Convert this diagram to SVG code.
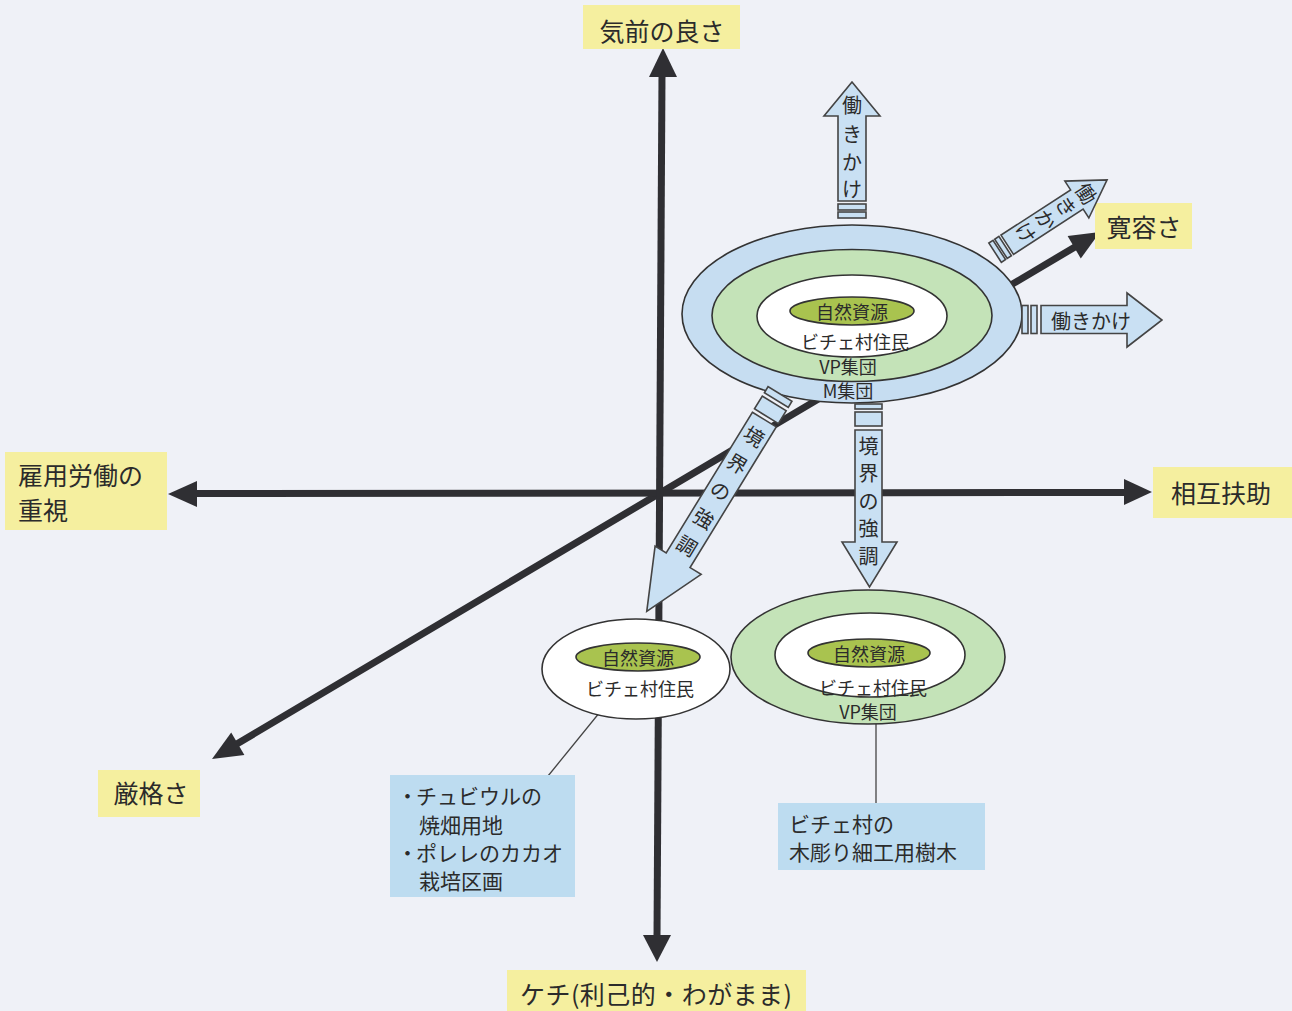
<svg xmlns="http://www.w3.org/2000/svg" width="1292" height="1011" viewBox="0 0 1292 1011">
<style>
text{font-family:"Noto Sans CJK JP","Noto Sans",sans-serif;fill:#2b2b2b;}
.lab{font-size:25px;}
.ylw{fill:#f5ef9f;}
.bbox{fill:#bddcf0;}
.axis{stroke:#2f2f33;stroke-width:7;fill:none;}
.head{fill:#2f2f33;}
.thin{stroke:#444;stroke-width:1.3;fill:none;}
.blk{fill:#c9e0f3;stroke:#444;stroke-width:1.6;}
.ring{stroke:#333;stroke-width:1.6;}
.res{fill:#a9c34f;stroke:#333;stroke-width:1.6;}
.et{font-size:18px;text-anchor:middle;dominant-baseline:central;}
.at{font-size:20px;text-anchor:middle;dominant-baseline:central;}
.bt{font-size:21px;}
</style>
<rect x="0" y="0" width="1292" height="1011" fill="#eff1f7"/>

<g id="connectors">
  <line class="axis" x1="230" y1="748" x2="1080" y2="244"/>
  <polygon class="head" points="212,759 244.4,754.9 231.2,732.5"/>
  <polygon class="head" points="1100,232 1080.8,258.5 1067.6,236.1"/>
  <line class="axis" x1="194" y1="493.5" x2="1126" y2="492.5"/>
  <polygon class="head" points="168,494 197,481 197,507"/>
  <polygon class="head" points="1152,492 1124,479 1124,505"/>
  <line class="axis" x1="662" y1="74" x2="657" y2="938"/>
  <polygon class="head" points="663,48 649,77 677,77"/>
  <polygon class="head" points="657,962 643,935 671,935"/>
  <line class="thin" x1="600" y1="712" x2="548" y2="776"/>
  <line class="thin" x1="876" y1="720" x2="876" y2="803"/>
</g>

<g id="label-kimae">
  <rect class="ylw" x="583" y="5" width="157" height="44"/>
  <text class="lab" x="662" y="30" text-anchor="middle" dominant-baseline="central" font-size="26">気前の良さ</text>
</g>
<g id="label-kanyou">
  <rect class="ylw" x="1095" y="203" width="97" height="46"/>
  <text class="lab" x="1144" y="226" text-anchor="middle" dominant-baseline="central">寛容さ</text>
</g>
<g id="label-koyou">
  <rect class="ylw" x="5" y="452" width="162" height="78"/>
  <text class="lab" x="18" y="474" dominant-baseline="central" font-size="26">雇用労働の</text>
  <text class="lab" x="18" y="509" dominant-baseline="central" font-size="26">重視</text>
</g>
<g id="label-sougo">
  <rect class="ylw" x="1153" y="467" width="139" height="51"/>
  <text class="lab" x="1221" y="492" text-anchor="middle" dominant-baseline="central" font-size="26">相互扶助</text>
</g>
<g id="label-genkaku">
  <rect class="ylw" x="98" y="770" width="102" height="47"/>
  <text class="lab" x="151" y="792" text-anchor="middle" dominant-baseline="central" font-size="24">厳格さ</text>
</g>
<g id="label-kechi">
  <rect class="ylw" x="507" y="970" width="299" height="41"/>
  <text class="lab" x="520" y="993" dominant-baseline="central" font-size="24" textLength="272" lengthAdjust="spacing">ケチ(利己的・わがまま)</text>
</g>

<g id="node-top">
  <ellipse class="ring" cx="852" cy="314" rx="170" ry="89" fill="#c6ddf1"/>
  <ellipse class="ring" cx="852" cy="315.5" rx="140" ry="66" fill="#c4e3b8"/>
  <ellipse class="ring" cx="852" cy="316" rx="95" ry="41" fill="#ffffff"/>
  <ellipse class="res" cx="852" cy="311" rx="62" ry="14"/>
  <text class="et" x="852" y="311">自然資源</text>
  <text class="et" x="855" y="341">ビチェ村住民</text>
  <text class="et" x="848" y="366" font-size="16">VP集団</text>
  <text class="et" x="848" y="390" font-size="16">M集団</text>
</g>

<g id="node-lowerleft">
  <ellipse class="ring" cx="636" cy="669" rx="94" ry="50" fill="#ffffff"/>
  <ellipse class="res" cx="638" cy="657" rx="62" ry="14"/>
  <text class="et" x="638" y="657">自然資源</text>
  <text class="et" x="640" y="688">ビチェ村住民</text>
</g>

<g id="node-lowerright">
  <ellipse class="ring" cx="868" cy="657" rx="137" ry="67" fill="#c4e3b8"/>
  <ellipse class="ring" cx="870" cy="655" rx="95" ry="42" fill="#ffffff"/>
  <ellipse class="res" cx="869" cy="653" rx="61" ry="14"/>
  <text class="et" x="869" y="653">自然資源</text>
  <text class="et" x="873" y="687">ビチェ村住民</text>
  <text class="et" x="868" y="711" font-size="16">VP集団</text>
</g>

<g id="box-left">
  <rect class="bbox" x="390" y="775" width="185" height="122"/>
  <text class="bt" y="804"><tspan x="397">・</tspan><tspan x="416">チュビウルの</tspan></text>
  <text class="bt" x="419" y="833">焼畑用地</text>
  <text class="bt" y="861"><tspan x="397">・</tspan><tspan x="416">ポレレのカカオ</tspan></text>
  <text class="bt" x="419" y="889">栽培区画</text>
</g>
<g id="box-right">
  <rect class="bbox" x="778" y="803" width="207" height="67"/>
  <text class="bt" x="789" y="832">ビチェ村の</text>
  <text class="bt" x="789" y="860">木彫り細工用樹木</text>
</g>

<g id="arrow-up">
  <path class="blk" d="M852,82 L880,116 L866,116 L866,201 L838,201 L838,116 L824,116 Z"/>
  <rect class="blk" x="838" y="204" width="28" height="6"/>
  <rect class="blk" x="838" y="212" width="28" height="6"/>
  <text class="at" x="852" y="104">働</text>
  <text class="at" x="852" y="133">き</text>
  <text class="at" x="852" y="161">か</text>
  <text class="at" x="852" y="188">け</text>
</g>

<g id="arrow-diag-up" transform="translate(993,254) rotate(57)">
  <path class="blk" d="M0,-136 L22,-100 L11.5,-100 L11.5,-17 L-11.5,-17 L-11.5,-100 L-22,-100 Z"/>
  <rect class="blk" x="-11.5" y="-14.5" width="23" height="5"/>
  <rect class="blk" x="-11.5" y="-7.5" width="23" height="5"/>
  <text class="at" x="0" y="-112" font-size="18">働</text>
  <text class="at" x="0" y="-88" font-size="18">き</text>
  <text class="at" x="0" y="-64" font-size="18">か</text>
  <text class="at" x="0" y="-40" font-size="18">け</text>
</g>

<g id="arrow-right">
  <path class="blk" d="M1041,305.5 L1127,305.5 L1127,293 L1162,320 L1127,347 L1127,333.5 L1041,333.5 Z"/>
  <rect class="blk" x="1022" y="305.5" width="6" height="28"/>
  <rect class="blk" x="1031" y="305.5" width="6" height="28"/>
  <text class="at" x="1091" y="320" font-size="22">働きかけ</text>
</g>

<g id="arrow-down">
  <path class="blk" d="M855,430 L882,430 L882,542 L897,542 L869.5,587 L842,542 L855,542 Z"/>
  <rect class="blk" x="855" y="404" width="27" height="5"/>
  <rect class="blk" x="855" y="412" width="27" height="14"/>
  <text class="at" x="868.5" y="445">境</text>
  <text class="at" x="868.5" y="472.5">界</text>
  <text class="at" x="868.5" y="500">の</text>
  <text class="at" x="868.5" y="527.5">強</text>
  <text class="at" x="868.5" y="555">調</text>
</g>

<g id="arrow-diag-down" transform="translate(780,394) rotate(31.5)">
  <path class="blk" d="M-14,30 L14,30 L14,195 L27,195 L0,255 L-27,195 L-14,195 Z"/>
  <rect class="blk" x="-14" y="0" width="28" height="7"/>
  <rect class="blk" x="-14" y="11" width="28" height="15"/>
  <text class="at" x="0" y="49">境</text>
  <text class="at" x="0" y="81">界</text>
  <text class="at" x="0" y="113">の</text>
  <text class="at" x="0" y="145">強</text>
  <text class="at" x="0" y="177">調</text>
</g>
</svg>
